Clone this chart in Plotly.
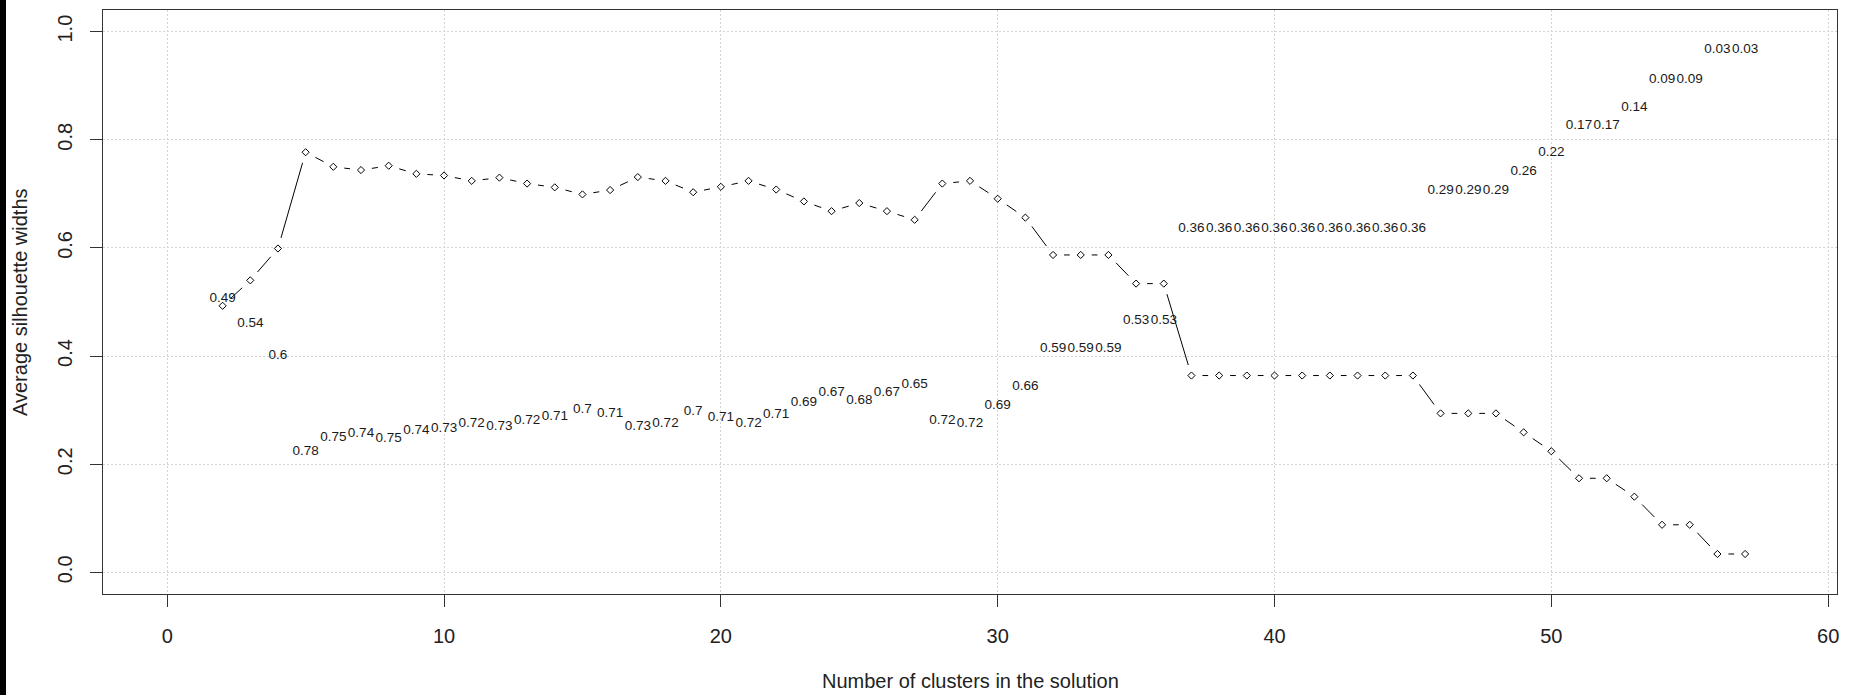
import plotly.graph_objects as go

# ---- data -------------------------------------------------------------
clusters = list(range(2, 58))
sil_width = [
    0.493, 0.540, 0.599, 0.777, 0.750, 0.744, 0.752, 0.737, 0.734, 0.724,
    0.730, 0.719, 0.712, 0.699, 0.707, 0.731, 0.724, 0.703, 0.713, 0.724,
    0.708, 0.686, 0.668, 0.683, 0.668, 0.652, 0.719, 0.724, 0.691, 0.656,
    0.587, 0.587, 0.587, 0.534, 0.534,
    0.364, 0.364, 0.364, 0.364, 0.364, 0.364, 0.364, 0.364, 0.364,
    0.294, 0.294, 0.294, 0.259, 0.224, 0.174, 0.174, 0.140, 0.088, 0.088,
    0.034, 0.034,
]
x_ticks = [0, 10, 20, 30, 40, 50, 60]
y_ticks = [0.0, 0.2, 0.4, 0.6, 0.8, 1.0]
y_ticktext = ["0.0", "0.2", "0.4", "0.6", "0.8", "1.0"]
x_title = "Number of clusters in the solution"
y_title = "Average silhouette widths"

# ---- geometry (pixels in the 1855x695 page) ---------------------------
W, H = 1855, 695
PL, PR, PT, PB = 103, 1837, 10, 594   # plot box edges
XR = [-2.32, 60.32]
YR = [-0.04, 1.04]
plot_w = PR - PL
plot_h = PB - PT
sx = plot_w / (XR[1] - XR[0])
sy = plot_h / (YR[1] - YR[0])
GAP = 11.0  # px gap around each point (R type = "b")

seg_x, seg_y = [], []
for i in range(len(clusters) - 1):
    x0, y0 = clusters[i], sil_width[i]
    x1, y1 = clusters[i + 1], sil_width[i + 1]
    dxp, dyp = (x1 - x0) * sx, (y1 - y0) * sy
    L = (dxp ** 2 + dyp ** 2) ** 0.5
    if L <= 2 * GAP:
        continue
    f = GAP / L
    seg_x += [x0 + (x1 - x0) * f, x1 - (x1 - x0) * f, None]
    seg_y += [y0 + (y1 - y0) * f, y1 - (y1 - y0) * f, None]

labels = [f"{round(v, 2):g}" for v in sil_width]
label_y = [1 - v for v in sil_width]

FONT = "Arial, Liberation Sans, sans-serif"

fig = go.Figure()
fig.add_trace(go.Scatter(x=seg_x, y=seg_y, mode="lines",
                         line=dict(color="black", width=1),
                         hoverinfo="skip", showlegend=False))
fig.add_trace(go.Scatter(x=clusters, y=sil_width, mode="markers",
                         marker=dict(symbol="diamond-open", size=5.5, color="black",
                                     line=dict(width=1, color="black")),
                         showlegend=False))
fig.add_trace(go.Scatter(x=clusters, y=label_y, mode="text", text=labels,
                         textposition="middle center",
                         textfont=dict(family=FONT, size=13.5, color="#1a1a1a"),
                         cliponaxis=False, showlegend=False))

axis_common = dict(
    showline=True, linecolor="#333", linewidth=1, mirror=True,
    ticks="outside", ticklen=12, tickwidth=1, tickcolor="#333",
    showgrid=True, gridcolor="#d3d3d3", gridwidth=1, griddash="2px,2px",
    zeroline=False, automargin=False,
    tickfont=dict(family=FONT, size=20, color="#222"),
)
fig.update_xaxes(range=XR, tickvals=x_ticks, ticklabelstandoff=12,
                 domain=[PL / W, PR / W], **axis_common)
fig.update_yaxes(range=YR, tickvals=y_ticks, ticktext=y_ticktext, tickangle=-90,
                 ticklabelstandoff=10, domain=[(H - PB) / H, (H - PT) / H],
                 **axis_common)

fig.add_annotation(text=x_title, xref="paper", yref="paper",
                   x=(PL + PR) / 2 / W, y=(H - 681) / H, showarrow=False,
                   xanchor="center", yanchor="middle",
                   font=dict(family=FONT, size=20, color="#222"))
fig.add_annotation(text=y_title, xref="paper", yref="paper",
                   x=20 / W, y=(H - (PT + PB) / 2) / H, showarrow=False,
                   textangle=-90, xanchor="center", yanchor="middle",
                   font=dict(family=FONT, size=20, color="#222"))

# thick black frame line at the very left of the image
fig.add_shape(type="line", xref="paper", yref="paper",
              x0=3 / W, x1=3 / W, y0=0, y1=1,
              line=dict(color="black", width=6), layer="above")

fig.update_layout(
    width=W, height=H,
    margin=dict(l=0, r=0, t=0, b=0, pad=0),
    plot_bgcolor="white", paper_bgcolor="white",
    font=dict(family=FONT),
)

fig.write_html("out.html", config={"displayModeBar": False},
               post_script="document.body.style.margin='0';")
